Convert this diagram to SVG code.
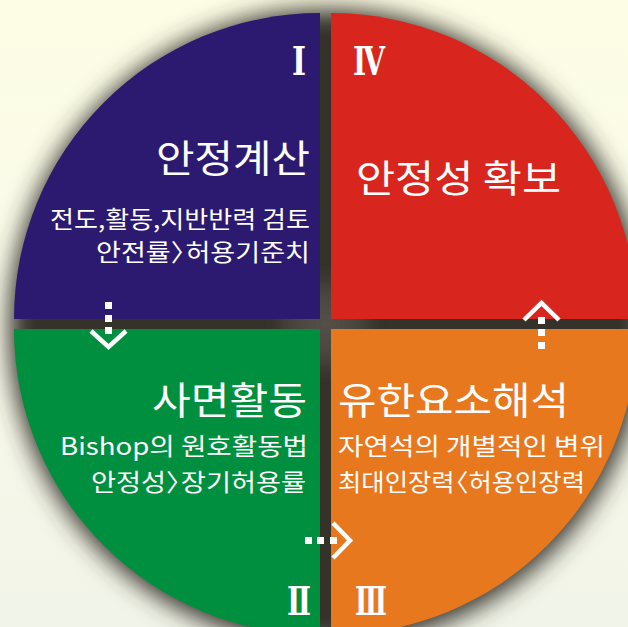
<svg xmlns="http://www.w3.org/2000/svg" width="628" height="627" viewBox="0 0 628 627">
  <defs>
    <linearGradient id="bg" x1="0" y1="0" x2="0" y2="1">
      <stop offset="0" stop-color="#fdfde5"/>
      <stop offset="0.5" stop-color="#f9faea"/>
      <stop offset="1" stop-color="#f1f4e8"/>
    </linearGradient>
    <radialGradient id="glow" cx="0.5" cy="0.5" r="0.5">
      <stop offset="0" stop-color="#56524b" stop-opacity="1"/>
      <stop offset="0.6" stop-color="#514d46" stop-opacity="0.7"/>
      <stop offset="1" stop-color="#4b4741" stop-opacity="0"/>
    </radialGradient>
    <filter id="blur" x="-20%" y="-20%" width="140%" height="140%">
      <feGaussianBlur stdDeviation="12"/>
    </filter>
    <filter id="blur2" x="-50%" y="-50%" width="200%" height="200%">
      <feGaussianBlur stdDeviation="6"/>
    </filter>
  </defs>
  <style>
    .title { font-family: "Noto Sans CJK KR", "Noto Sans", sans-serif; font-size: 38px; font-weight: 400; fill: #ffffff; }
    .sub { font-family: "Noto Sans CJK KR", "Noto Sans", sans-serif; font-size: 24px; font-weight: 400; fill: #ffffff; }
    .num { font-family: "DejaVu Serif", "Liberation Serif", serif; font-size: 40px; font-weight: 700; fill: #ffffff; }
    .dot { fill: #ffffff; }
    .chev { fill: none; stroke: #ffffff; stroke-width: 4.5; stroke-linejoin: miter; stroke-miterlimit: 10; }
  </style>

  <rect x="0" y="0" width="628" height="627" fill="url(#bg)"/>

  <!-- shadow / base disc that also shows through the cross-shaped gaps -->
  <g id="base">
    <circle cx="327" cy="327" r="318" fill="#35322c" filter="url(#blur)"/>
    <circle cx="325.5" cy="324" r="55" fill="url(#glow)" filter="url(#blur2)"/>
  </g>

  <g id="quadrant-1">
    <path d="M320,319 H14 A306,306 0 0 1 320,13 Z" fill="#2b1a6f"/>
    <text class="num" x="292" y="75" textLength="14" lengthAdjust="spacingAndGlyphs">Ⅰ</text>
    <text class="title" x="156" y="172" textLength="154" lengthAdjust="spacingAndGlyphs">안정계산</text>
    <text class="sub" x="50" y="228" textLength="260" lengthAdjust="spacingAndGlyphs">전도,활동,지반반력 검토</text>
    <text class="sub" x="96" y="261" dx="0 0 0 0 -11" textLength="214" lengthAdjust="spacingAndGlyphs">안전률〉허용기준치</text>
  </g>

  <g id="quadrant-4">
    <path d="M331,319 V13 A306,306 0 0 1 637,319 Z" fill="#d8261e"/>
    <text class="num" x="353" y="75" textLength="32" lengthAdjust="spacingAndGlyphs">Ⅳ</text>
    <text class="title" x="356" y="192" textLength="205" lengthAdjust="spacingAndGlyphs">안정성 확보</text>
  </g>

  <g id="quadrant-2">
    <path d="M320,329 H14 A306,306 0 0 0 320,635 Z" fill="#008f3e"/>
    <text class="num" x="287" y="615" textLength="24" lengthAdjust="spacingAndGlyphs">Ⅱ</text>
    <text class="title" x="152" y="414" textLength="155" lengthAdjust="spacingAndGlyphs">사면활동</text>
    <text class="sub" x="60" y="455" textLength="248" lengthAdjust="spacingAndGlyphs">Bishop의 원호활동법</text>
    <text class="sub" x="91" y="491" dx="0 0 0 0 -11" textLength="215" lengthAdjust="spacingAndGlyphs">안정성〉장기허용률</text>
  </g>

  <g id="quadrant-3">
    <path d="M331,329 H637 A306,306 0 0 1 331,635 Z" fill="#e8781e"/>
    <text class="num" x="355" y="615" textLength="32" lengthAdjust="spacingAndGlyphs">Ⅲ</text>
    <text class="title" x="338" y="414" textLength="231" lengthAdjust="spacingAndGlyphs">유한요소해석</text>
    <text class="sub" x="338" y="455" textLength="267" lengthAdjust="spacingAndGlyphs">자연석의 개별적인 변위</text>
    <text class="sub" x="338" y="491" dx="0 0 0 0 0 -11" textLength="247" lengthAdjust="spacingAndGlyphs">최대인장력〈허용인장력</text>
  </g>

  <g id="connectors">
    <g id="arrow-1-2">
      <rect class="dot" x="105" y="302" width="7" height="7"/>
      <rect class="dot" x="105" y="315" width="7" height="7"/>
      <rect class="dot" x="105" y="327" width="7" height="7"/>
      <polyline class="chev" points="91,331 108.5,347 126,331"/>
    </g>
    <g id="arrow-2-3">
      <rect class="dot" x="305" y="537" width="7" height="7"/>
      <rect class="dot" x="317" y="537" width="7" height="7"/>
      <rect class="dot" x="330" y="537" width="7" height="7"/>
      <polyline class="chev" points="333,523 350,540.5 333,558"/>
    </g>
    <g id="arrow-3-4">
      <rect class="dot" x="538" y="317" width="7" height="7"/>
      <rect class="dot" x="538" y="329" width="7" height="7"/>
      <rect class="dot" x="538" y="342" width="7" height="7"/>
      <polyline class="chev" points="524,320 541.5,303 559,320"/>
    </g>
  </g>
</svg>
